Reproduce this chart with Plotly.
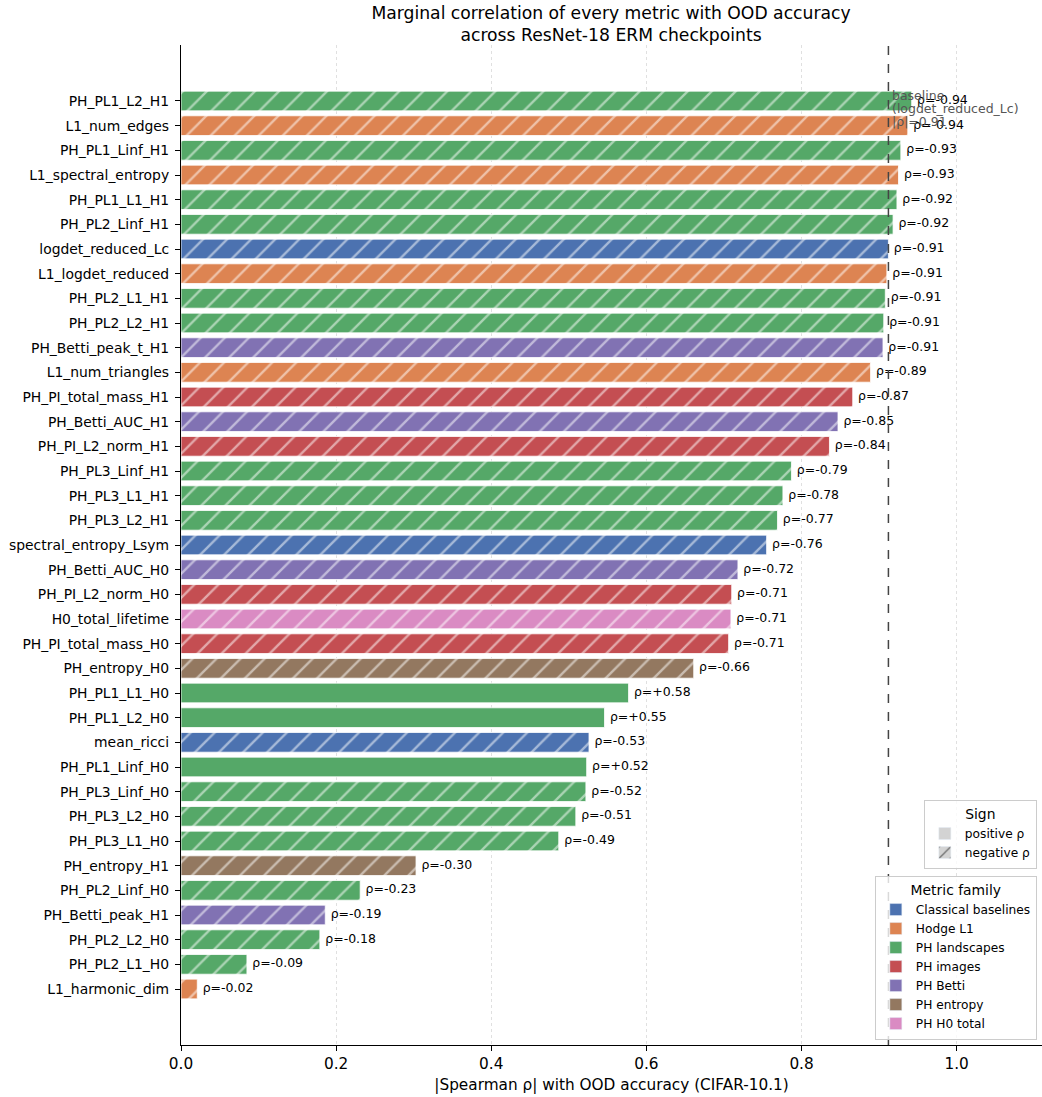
import plotly.graph_objects as go

metrics = ["PH_PL1_L2_H1", "L1_num_edges", "PH_PL1_Linf_H1", "L1_spectral_entropy", "PH_PL1_L1_H1",
           "PH_PL2_Linf_H1", "logdet_reduced_Lc", "L1_logdet_reduced", "PH_PL2_L1_H1", "PH_PL2_L2_H1",
           "PH_Betti_peak_t_H1", "L1_num_triangles", "PH_PI_total_mass_H1", "PH_Betti_AUC_H1", "PH_PI_L2_norm_H1",
           "PH_PL3_Linf_H1", "PH_PL3_L1_H1", "PH_PL3_L2_H1", "spectral_entropy_Lsym", "PH_Betti_AUC_H0",
           "PH_PI_L2_norm_H0", "H0_total_lifetime", "PH_PI_total_mass_H0", "PH_entropy_H0", "PH_PL1_L1_H0",
           "PH_PL1_L2_H0", "mean_ricci", "PH_PL1_Linf_H0", "PH_PL3_Linf_H0", "PH_PL3_L2_H0",
           "PH_PL3_L1_H0", "PH_entropy_H1", "PH_PL2_Linf_H0", "PH_Betti_peak_H1", "PH_PL2_L2_H0",
           "PH_PL2_L1_H0", "L1_harmonic_dim"]
rho = [-0.942, -0.937, -0.928, -0.925, -0.923,
       -0.918, -0.912, -0.910, -0.908, -0.906,
       -0.905, -0.889, -0.866, -0.847, -0.836,
       -0.787, -0.776, -0.769, -0.755, -0.718,
       -0.710, -0.709, -0.706, -0.661, 0.577,
       0.546, -0.526, 0.523, -0.522, -0.509,
       -0.487, -0.303, -0.231, -0.186, -0.179,
       -0.085, -0.021]
family = ["PH landscapes", "Hodge L1", "PH landscapes", "Hodge L1", "PH landscapes",
          "PH landscapes", "Classical baselines", "Hodge L1", "PH landscapes", "PH landscapes",
          "PH Betti", "Hodge L1", "PH images", "PH Betti", "PH images",
          "PH landscapes", "PH landscapes", "PH landscapes", "Classical baselines", "PH Betti",
          "PH images", "PH H0 total", "PH images", "PH entropy", "PH landscapes",
          "PH landscapes", "Classical baselines", "PH landscapes", "PH landscapes", "PH landscapes",
          "PH landscapes", "PH entropy", "PH landscapes", "PH Betti", "PH landscapes",
          "PH landscapes", "Hodge L1"]
families = ["Classical baselines", "Hodge L1", "PH landscapes", "PH images", "PH Betti", "PH entropy", "PH H0 total"]
family_colors = ["#4C72B0", "#DD8452", "#55A868", "#C44E52", "#8172B3", "#937860", "#DA8BC3"]
baseline_name = "logdet_reduced_Lc"
xticks = [0.0, 0.2, 0.4, 0.6, 0.8, 1.0]

color_of = dict(zip(families, family_colors))
absr = [abs(r) for r in rho]
font = "DejaVu Sans, sans-serif"

fig = go.Figure()

# data bars, one per family
for fam in families:
    idx = [i for i, f in enumerate(family) if f == fam]
    fig.add_trace(go.Bar(
        x=[absr[i] for i in idx], y=[metrics[i] for i in idx], orientation="h",
        width=0.8,
        marker=dict(color=color_of[fam], line=dict(color="white", width=0.8),
                    pattern=dict(shape=["/" if rho[i] < 0 else "" for i in idx],
                                 fgcolor="white", bgcolor=color_of[fam],
                                 size=17, solidity=0.14, fillmode="overlay")),
        showlegend=False, hoverinfo="skip"))

# labels
fig.add_trace(go.Scatter(
    x=absr, y=metrics, mode="markers+text",
    marker=dict(size=7, opacity=0),
    text=[f"ρ={r:+.2f}" if r > 0 else f"ρ={r:.2f}" for r in rho],
    textposition="middle right", textfont=dict(size=12.5, color="black", family=font),
    showlegend=False, cliponaxis=False, hoverinfo="skip"))

# family legend
for fam in families:
    fig.add_trace(go.Bar(x=[None], y=[None], orientation="h", name=fam,
                         marker=dict(color=color_of[fam]), legend="legend"))
# sign legend
fig.add_trace(go.Bar(x=[None], y=[None], orientation="h", name="positive ρ",
                     marker=dict(color="lightgray"), legend="legend2"))
fig.add_trace(go.Bar(x=[None], y=[None], orientation="h", name="negative ρ",
                     marker=dict(color="lightgray",
                                 pattern=dict(shape="/", fgcolor="black", bgcolor="lightgray",
                                              size=10, solidity=0.15)),
                     legend="legend2"))

base_val = absr[metrics.index(baseline_name)]
fig.add_shape(type="line", x0=base_val, x1=base_val, xref="x", y0=0, y1=1, yref="paper",
              line=dict(color="#444", width=1.5, dash="dash"), layer="above")
for k, line in enumerate(["baseline", f"({baseline_name})", f"|ρ|={base_val:.2f}"]):
    fig.add_annotation(x=base_val, xref="x", xshift=2, y=0.950 - 0.0132 * k, yref="paper",
                       xanchor="left", yanchor="middle", align="left", showarrow=False,
                       text=line, font=dict(size=12.5, color="#555", family=font))

n = len(metrics)
fig.update_layout(
    width=1042, height=1097,
    margin=dict(l=181, r=0, t=45, b=52),
    plot_bgcolor="white", paper_bgcolor="white",
    barmode="overlay",
    font=dict(family=font, size=13.9, color="black"),
    title=dict(text="Marginal correlation of every metric with OOD accuracy<br>across ResNet-18 ERM checkpoints",
               x=0.5864, xanchor="center", y=0.983, yanchor="top",
               font=dict(size=17.2, color="black")),
    xaxis=dict(range=[0, 1.11], tickvals=xticks, ticktext=[f"{t:.1f}" for t in xticks],
               tickfont=dict(size=15.3),
               showgrid=True, gridcolor="#e0e0e0", griddash="dot", gridwidth=1,
               showline=True, linecolor="black", linewidth=1.2, ticks="outside", ticklen=5,
               tickcolor="black", zeroline=False,
               title=dict(text="|Spearman ρ| with OOD accuracy (CIFAR-10.1)", standoff=6,
                          font=dict(size=15.3))),
    yaxis=dict(categoryorder="array", categoryarray=metrics, range=[n - 1 + 2.27, -2.27],
               tickfont=dict(size=13.9),
               showline=True, linecolor="black", linewidth=1.2, ticks="outside", ticklen=5,
               tickcolor="black", showgrid=False, zeroline=False, ticklabelstandoff=3),
    legend=dict(title=dict(text="Metric family", side="top center", font=dict(size=13.9)),
                x=0.994, xanchor="right", y=0.005, yanchor="bottom",
                bordercolor="#cccccc", borderwidth=1, bgcolor="rgba(255,255,255,0.8)",
                font=dict(size=12.2), tracegroupgap=0, itemwidth=30),
    legend2=dict(title=dict(text="Sign", side="top center", font=dict(size=13.9)),
                 x=0.994, xanchor="right", y=0.245, yanchor="top",
                 bordercolor="#cccccc", borderwidth=1, bgcolor="rgba(255,255,255,0.8)",
                 font=dict(size=12.2), tracegroupgap=0, itemwidth=30),
)

fig.write_html("out.html", config={"displayModeBar": False},
               post_script="document.body.style.margin='0';document.body.style.overflow='hidden';")
